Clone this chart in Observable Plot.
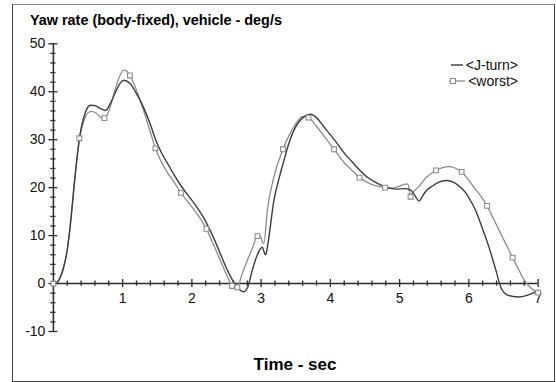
<!DOCTYPE html>
<html>
<head>
<meta charset="utf-8">
<script src="https://cdn.jsdelivr.net/npm/d3@7"></script>
<script src="https://cdn.jsdelivr.net/npm/@observablehq/plot@0.6"></script>
<style>
  html, body { margin: 0; padding: 0; background: #fff; }
  #wrap { position: relative; width: 556px; height: 382px; overflow: hidden; font-family: "Liberation Sans", Arial, sans-serif; }
  #frame { position: absolute; left: 12px; top: 4px; width: 541px; height: 376px; border: 1px solid #444; border-top-color: #8a8a8a; box-sizing: content-box; pointer-events: none; }
  #title { position: absolute; left: 30px; top: 12.8px; font-size: 14.4px; font-weight: bold; line-height: 1; color: #000; white-space: nowrap; }
  #xlabel { position: absolute; left: 0; width: 590px; text-align: center; top: 356.3px; font-size: 17px; font-weight: bold; line-height: 1; color: #000; white-space: nowrap; }
  #legend { position: absolute; right: 38px; top: 57px; font-size: 14px; line-height: 16px; color: #111; text-align: right; }
  #legend .row { display: flex; align-items: center; justify-content: flex-end; }
  #legend svg { margin-right: 2px; }
  #chart { position: absolute; left: 0; top: 0; }
</style>
</head>
<body>
<div id="wrap">
  <div id="chart"></div>
  <div id="frame"></div>
  <div id="title"></div>
  <div id="xlabel"></div>
  <div id="legend"></div>
</div>
<script>
// ---- text ----
const titleText = "Yaw rate (body-fixed), vehicle - deg/s";
const xLabelText = "Time - sec";
const seriesNames = ["<J-turn>", "<worst>"];

// ---- ticks ----
const xMajorTicks = [1, 2, 3, 4, 5, 6, 7];
const xMinorTicks = [0.2, 0.4, 0.6, 0.8, 1.2, 1.4, 1.6, 1.8, 2.2, 2.4, 2.6, 2.8, 3.2, 3.4, 3.6, 3.8, 4.2, 4.4, 4.6, 4.8, 5.2, 5.4, 5.6, 5.8, 6.2, 6.4, 6.6, 6.8];
const yMajorTicks = [-10, 0, 10, 20, 30, 40, 50];
const yMinorTicks = [-8, -6, -4, -2, 2, 4, 6, 8, 12, 14, 16, 18, 22, 24, 26, 28, 32, 34, 36, 38, 42, 44, 46, 48];

// ---- series: J-turn ----
const jTurnT = [0, 0.05, 0.1, 0.15, 0.2, 0.25, 0.3, 0.344, 0.4, 0.464, 0.536, 0.6, 0.68, 0.753, 0.82, 0.9, 0.97, 1.017, 1.1, 1.2, 1.3, 1.4, 1.474, 1.55, 1.65, 1.75, 1.842, 1.95, 2.05, 2.15, 2.211, 2.3, 2.4, 2.5, 2.6, 2.68, 2.752, 2.81, 2.873, 2.94, 3.0, 3.017, 3.045, 3.065, 3.1, 3.185, 3.26, 3.33, 3.4, 3.474, 3.55, 3.62, 3.715, 3.8, 3.9, 4.0, 4.062, 4.2, 4.3, 4.428, 4.55, 4.68, 4.82, 4.95, 5.064, 5.15, 5.22, 5.28, 5.33, 5.37, 5.49, 5.58, 5.68, 5.78, 5.88, 5.95, 6.02, 6.1, 6.17, 6.29, 6.39, 6.46, 6.56, 6.71, 6.85, 7.0];
const jTurnV = [0, 0.2, 1.3, 3.5, 7, 13, 20.5, 26.5, 32.3, 35.8, 37.2, 37.1, 36.5, 36.1, 37.5, 40, 41.9, 42.4, 41.8, 39.6, 36.8, 33.2, 30.1, 27.6, 25, 22.5, 20.4, 18.3, 16.4, 14.2, 12.6, 10, 6.6, 3.2, 0.4, -1.2, -1.7, -0.6, 2.8, 5.8, 7.4, 7.6, 6.5, 6.0, 8.5, 17.4, 22, 25.7, 29.2, 32, 33.8, 34.8, 35.3, 34.6, 32.8, 31, 29.9, 27.2, 25.6, 23.6, 22, 20.9, 20.0, 19.7, 19.8, 19.6, 18.4, 17.2, 18.2, 19.1, 20.5, 21.2, 21.5, 21.1, 20.1, 19, 17.4, 15.2, 12.5, 7.6, 2.8, -0.7, -2.4, -2.8, -2.4, -1.4];

// ---- series: worst ----
const worstT = [0, 0.05, 0.1, 0.15, 0.2, 0.25, 0.3, 0.375, 0.43, 0.5, 0.55, 0.62, 0.68, 0.737, 0.8, 0.88, 0.95, 1.017, 1.06, 1.105, 1.2, 1.3, 1.4, 1.474, 1.55, 1.65, 1.75, 1.842, 1.95, 2.05, 2.15, 2.211, 2.3, 2.4, 2.5, 2.579, 2.62, 2.656, 2.72, 2.8, 2.88, 2.947, 2.99, 3.02, 3.04, 3.09, 3.185, 3.316, 3.4, 3.474, 3.595, 3.684, 3.8, 3.9, 4.053, 4.2, 4.3, 4.421, 4.55, 4.65, 4.789, 4.9, 5.0, 5.06, 5.12, 5.158, 5.2, 5.27, 5.37, 5.45, 5.526, 5.62, 5.71, 5.8, 5.895, 6.0, 6.07, 6.17, 6.263, 6.36, 6.46, 6.55, 6.632, 6.72, 6.8, 6.9, 7.0];
const worstV = [0, 0.2, 1.3, 3.5, 7, 13, 20.5, 30.3, 33.5, 35.6, 35.9, 35.5, 34.7, 34.5, 36, 39.8, 43, 44.5, 44.3, 43.4, 40.3, 36.2, 31.6, 28.2, 25.6, 23.1, 21, 18.9, 16.9, 15, 12.9, 11.4, 8.5, 5.2, 1.9, -0.5, -0.8, -0.8, 1.8, 4.8, 7.6, 9.9, 9.9, 8.6, 8.4, 15.3, 22.3, 28.0, 30.8, 32.7, 34.8, 34.6, 32.8, 30.9, 28.0, 25.2, 23.8, 22.1, 21, 20.4, 20.0, 19.9, 20.3, 20.7, 20.8, 18.1, 19.2, 20.1, 21.9, 22.9, 23.6, 24.2, 24.4, 24.1, 23.3, 21.5, 20.1, 18.3, 16.2, 13.4, 10.4, 7.8, 5.4, 2.9, 0.7, -1.0, -1.9];

// ---- markers on worst ----
const worstMarkerT = [0, 0.375, 0.737, 1.105, 1.474, 1.842, 2.211, 2.579, 2.656, 2.947, 3.316, 3.684, 4.053, 4.421, 4.789, 5.158, 5.526, 5.895, 6.263, 6.632, 7.0];
const worstMarkerV = [0, 30.3, 34.5, 43.4, 28.2, 18.9, 11.4, -0.5, -0.8, 9.9, 28.0, 34.6, 28.0, 22.1, 20.0, 18.1, 23.6, 23.3, 16.2, 5.4, -1.9];

const colJ = "#3c3c3c", colW = "#8c8c8c", axisCol = "#2a2a2a";

const jTurn = jTurnT.map((t, i) => ({t, v: jTurnV[i]}));
const worst = worstT.map((t, i) => ({t, v: worstV[i]}));
const marks = worstMarkerT.map((t, i) => ({t, v: worstMarkerV[i]}));

const chart = Plot.plot({
  width: 556,
  height: 382,
  marginLeft: 52.9,
  marginRight: 18.4,
  marginTop: 43.3,
  marginBottom: 51,
  x: {domain: [0, 7], axis: null},
  y: {domain: [-10, 50], axis: null},
  style: {background: "transparent", fontFamily: "'Liberation Sans', Arial, sans-serif", overflow: "visible"},
  marks: [
    // axes lines
    Plot.ruleY([0], {x1: 0, x2: 7, stroke: axisCol, strokeWidth: 1.5}),
    Plot.ruleX([0], {y1: -10, y2: 50, stroke: axisCol, strokeWidth: 1.5}),
    // x ticks
    Plot.ruleX(xMinorTicks, {x: d => d, y1: 0, y2: 0, insetTop: -2.6, insetBottom: -2.6, stroke: axisCol, strokeWidth: 1.3}),
    Plot.ruleX(xMajorTicks, {x: d => d, y1: 0, y2: 0, insetTop: -4, insetBottom: -4, stroke: axisCol, strokeWidth: 1.3}),
    // y ticks
    Plot.ruleY(yMinorTicks, {y: d => d, x1: 0, x2: 0, insetLeft: -2.6, insetRight: -2.6, stroke: axisCol, strokeWidth: 1.3}),
    Plot.ruleY(yMajorTicks, {y: d => d, x1: 0, x2: 0, insetLeft: -4.5, insetRight: -4.5, stroke: axisCol, strokeWidth: 1.3}),
    // tick labels
    Plot.text(yMajorTicks, {x: 0, y: d => d, text: d => String(d), textAnchor: "end", dx: -8, fontSize: 14, fill: "#111"}),
    Plot.text(xMajorTicks, {x: d => d, y: 0, text: d => String(d), dy: 15, fontSize: 14, fill: "#111"}),
    // series
    Plot.line(worst, {x: "t", y: "v", stroke: colW, strokeWidth: 1.3, curve: "monotone-x"}),
    Plot.line(jTurn, {x: "t", y: "v", stroke: colJ, strokeWidth: 1.4, curve: "monotone-x"}),
    Plot.dot(marks, {x: "t", y: "v", symbol: "square", r: 2.7, fill: "white", stroke: colW, strokeWidth: 1.1})
  ]
});
document.getElementById("chart").appendChild(chart);

document.getElementById("title").textContent = titleText;
document.getElementById("xlabel").textContent = xLabelText;

const legend = document.getElementById("legend");
const sym = [
  `<svg width="14" height="10"><line x1="1" y1="5" x2="13" y2="5" stroke="${colJ}" stroke-width="1.4"/></svg>`,
  `<svg width="18" height="10"><line x1="1" y1="5" x2="17" y2="5" stroke="${colW}" stroke-width="1.3"/><rect x="2.5" y="2.5" width="5" height="5" fill="white" stroke="${colW}" stroke-width="1.1"/></svg>`
];
seriesNames.forEach((name, i) => {
  const row = document.createElement("div");
  row.className = "row";
  row.innerHTML = sym[i];
  const span = document.createElement("span");
  span.textContent = name;
  row.appendChild(span);
  legend.appendChild(row);
});
</script>
</body>
</html>
